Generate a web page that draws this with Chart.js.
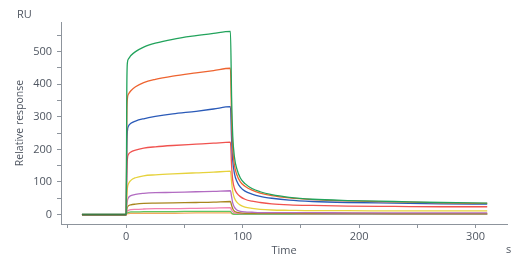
<!DOCTYPE html>
<html>
<head>
<meta charset="utf-8">
<script src="https://cdn.jsdelivr.net/npm/chart.js@4"></script>
<style>
	body { margin: 0; background: #fff; }
</style>
</head>
<body>
<canvas id="sprChart" width="529" height="265"></canvas>
<script>
// sample times (s), shared by every cycle
const times = [-38, 0, 0.5, 1, 2, 4, 8, 15, 25, 40, 60, 75, 89.5, 90.5, 91.5, 93, 95, 98, 102, 108, 115, 125, 140, 160, 190, 230, 270, 310];

// response (RU) per concentration, highest first
const greenRU  = [0, 0, 380, 465, 478, 488, 500, 514, 526, 538, 549, 556, 562, 360, 240, 175, 140, 112, 95, 80, 70, 61, 53, 47, 43, 40, 37, 35];
const orangeRU = [0, 0, 290, 355, 370, 380, 392, 405, 415, 425, 435, 442, 449, 290, 200, 150, 122, 100, 87, 75, 66, 58, 51, 46, 42, 39, 36, 34];
const blueRU   = [0, 0, 200, 255, 272, 280, 287, 294, 301, 309, 317, 324, 331, 230, 165, 125, 102, 84, 72, 63, 56, 50, 44, 40, 37, 35, 33, 32];
const redRU    = [0, 0, 120, 170, 185, 192, 198, 204, 208, 212, 216, 219, 222, 150, 105, 80, 66, 55, 47, 41, 37, 33, 30, 28, 26, 25, 24, 24];
const yellowRU = [0, 0, 50, 80, 95, 105, 113, 119, 122, 125, 128, 130, 133, 100, 70, 50, 38, 29, 23, 19, 16, 14, 13, 12, 12, 11, 11, 11];
const purpleRU = [0, 0, 25, 42, 52, 58, 62, 65, 67, 68, 70, 71, 73, 55, 35, 22, 14, 10, 8, 7, 6, 6, 6, 6, 5, 5, 5, 5];
const brownRU  = [0, 0, 15, 22, 27, 30, 32, 34, 35, 36, 37, 38, 40, 28, 18, 10, 7, 5, 4, 4, 4, 4, 4, 4, 4, 3, 3, 3];
const pinkRU   = [0, 0, 7, 11, 13, 15, 16, 17, 18, 18, 19, 20, 21, 14, 9, 5, 4, 3, 3, 3, 3, 3, 3, 2, 2, 2, 2, 2];
const limeRU   = [0, 0, 4, 6, 7, 8, 8, 9, 9, 9, 10, 10, 10, 5, 2, 1, 1, 1, 1, 1, 1, 1, 1, 1, 1, 1, 1, 1];
const tanRU    = [0, 0, 2, 3, 3, 4, 4, 4, 4, 4, 5, 5, 5, 3, 2, 1, 1, 1, 1, 1, 1, 1, 1, 1, 1, 1, 1, 1];

const xTicks = [-50, 0, 50, 100, 150, 200, 250, 300];
const xTickLabels = [0, 100, 200, 300];
const yTicks = [0, 50, 100, 150, 200, 250, 300, 350, 400, 450, 500, 550];
const yTickLabels = [0, 100, 200, 300, 400, 500];

const series = [
	{ values: greenRU, color: '#22a35c' },
	{ values: orangeRU, color: '#ee6430' },
	{ values: blueRU, color: '#2a5ab8' },
	{ values: redRU, color: '#f0524f' },
	{ values: yellowRU, color: '#e6d23c' },
	{ values: purpleRU, color: '#b26cc2' },
	{ values: brownRU, color: '#a8861e' },
	{ values: pinkRU, color: '#f27fae' },
	{ values: limeRU, color: '#5cc662' },
	{ values: tanRU, color: '#f2aa5c' }
];

const axisColor = '#8d949c';
const textColor = '#4f5661';
const baselineColor = '#3f7a43';
const font = 'Open Sans';

const datasets = series.map((s, idx) => ({
	data: times.map((t, i) => ({ x: t, y: s.values[i] })),
	borderColor: s.color,
	borderWidth: 1.3,
	pointRadius: 0,
	fill: false,
	cubicInterpolationMode: 'monotone',
	// the overlapping pre-injection baseline reads as one darker, heavier line
	segment: idx === 0 ? {
		borderColor: c => c.p1.parsed.x <= 0 ? baselineColor : undefined,
		borderWidth: c => c.p1.parsed.x <= 0 ? 2 : undefined
	} : undefined
}));

// extra labels at the axis ends
const unitLabels = {
	id: 'unitLabels',
	afterDraw(chart) {
		const ctx = chart.ctx;
		ctx.save();
		ctx.fillStyle = textColor;
		ctx.font = '11px "' + font + '"';
		ctx.textBaseline = 'middle';
		ctx.textAlign = 'left';
		ctx.fillText('RU', 17, 15);
		ctx.fillText('s', 506, 250);
		ctx.restore();
	}
};

const ctx = document.getElementById('sprChart');
new Chart(ctx, {
	type: 'line',
	data: { datasets: datasets },
	plugins: [unitLabels],
	options: {
		responsive: false,
		animation: false,
		layout: { padding: { left: 0, right: 22, top: 22, bottom: 0 } },
		plugins: {
			legend: { display: false },
			tooltip: { enabled: false }
		},
		scales: {
			x: {
				type: 'linear',
				min: -56,
				max: 327,
				afterBuildTicks: scale => { scale.ticks = xTicks.map(v => ({ value: v })); },
				afterFit: scale => { scale.height = 41; },
				grid: { display: true, drawOnChartArea: false, color: axisColor, tickLength: 4 },
				border: { color: axisColor, width: 1 },
				ticks: {
					color: textColor,
					font: { family: font, size: 11 },
					padding: 2,
					maxRotation: 0,
					autoSkip: false,
					callback: v => xTickLabels.includes(v) ? String(v) : ''
				},
				title: {
					display: true,
					text: 'Time',
					color: textColor,
					font: { family: font, size: 11 },
					padding: { top: 0, bottom: 8 }
				}
			},
			y: {
				min: -29,
				max: 591,
				afterBuildTicks: scale => { scale.ticks = yTicks.map(v => ({ value: v })); },
				afterFit: scale => { scale.width = 61; },
				grid: { display: true, drawOnChartArea: false, color: axisColor, tickLength: 4 },
				border: { color: axisColor, width: 1 },
				ticks: {
					color: textColor,
					font: { family: font, size: 11 },
					padding: 5,
					autoSkip: false,
					callback: v => yTickLabels.includes(v) ? String(v) : ''
				},
				title: {
					display: true,
					text: 'Relative response',
					color: textColor,
					font: { family: font, size: 10.5 },
					padding: { top: 14, bottom: 0 }
				}
			}
		}
	}
});
</script>
</body>
</html>
